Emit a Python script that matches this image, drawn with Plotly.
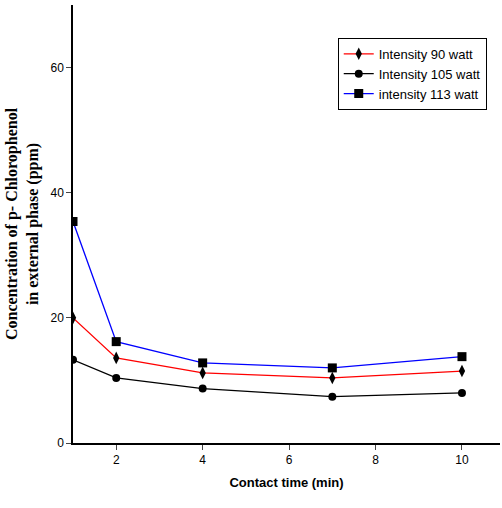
import plotly.graph_objects as go

time = [1, 2, 4, 7, 10]
int90 = [20.0, 13.6, 11.2, 10.4, 11.5]
int105 = [13.3, 10.4, 8.7, 7.4, 8.0]
int113 = [35.4, 16.2, 12.8, 12.0, 13.8]
names = ["Intensity 90 watt", "Intensity 105 watt", "intensity 113 watt"]
x_ticks = [2, 4, 6, 8, 10]
y_ticks = [0, 20, 40, 60]

fig = go.Figure()
series = [(int90, "red", "diamond-tall"), (int105, "black", "circle"), (int113, "blue", "square")]
for (vals, col, sym), nm in zip(series, names):
    fig.add_trace(go.Scatter(
        x=time, y=vals, name=nm, mode="lines+markers",
        line=dict(color=col, width=1.3),
        marker=dict(color="black", symbol=sym, size=9 if sym != "circle" else 8),
    ))

fig.update_layout(
    width=502, height=508,
    margin=dict(l=73, r=2, t=5, b=65),
    paper_bgcolor="white", plot_bgcolor="white",
    font=dict(family="Liberation Sans, Arial", size=12, color="black"),
    showlegend=True,
    legend=dict(
        x=0.62, y=0.925, xanchor="left", yanchor="top",
        bordercolor="black", borderwidth=1, bgcolor="white",
        font=dict(family="Liberation Sans Narrow, Liberation Sans", size=13),
        itemwidth=30, tracegroupgap=0,
    ),
    xaxis=dict(
        range=[1, 10.88], tickvals=x_ticks, ticks="outside", ticklen=5,
        showline=True, linecolor="black", linewidth=1.5, showgrid=False, zeroline=False,
        title=dict(text="<b>Contact time (min)</b>", standoff=12,
                   font=dict(family="Liberation Sans Narrow, Liberation Sans", size=13)),
    ),
    yaxis=dict(
        range=[0, 70], tickvals=y_ticks, ticks="outside", ticklen=5,
        showline=True, linecolor="black", linewidth=1.5, showgrid=False, zeroline=False,
        title=dict(text="<b>Concentration of p- Chlorophenol<br>in external phase (ppm)</b>",
                   standoff=8,
                   font=dict(family="Liberation Serif, Times New Roman", size=16)),
    ),
)

fig.write_html("out.html")
